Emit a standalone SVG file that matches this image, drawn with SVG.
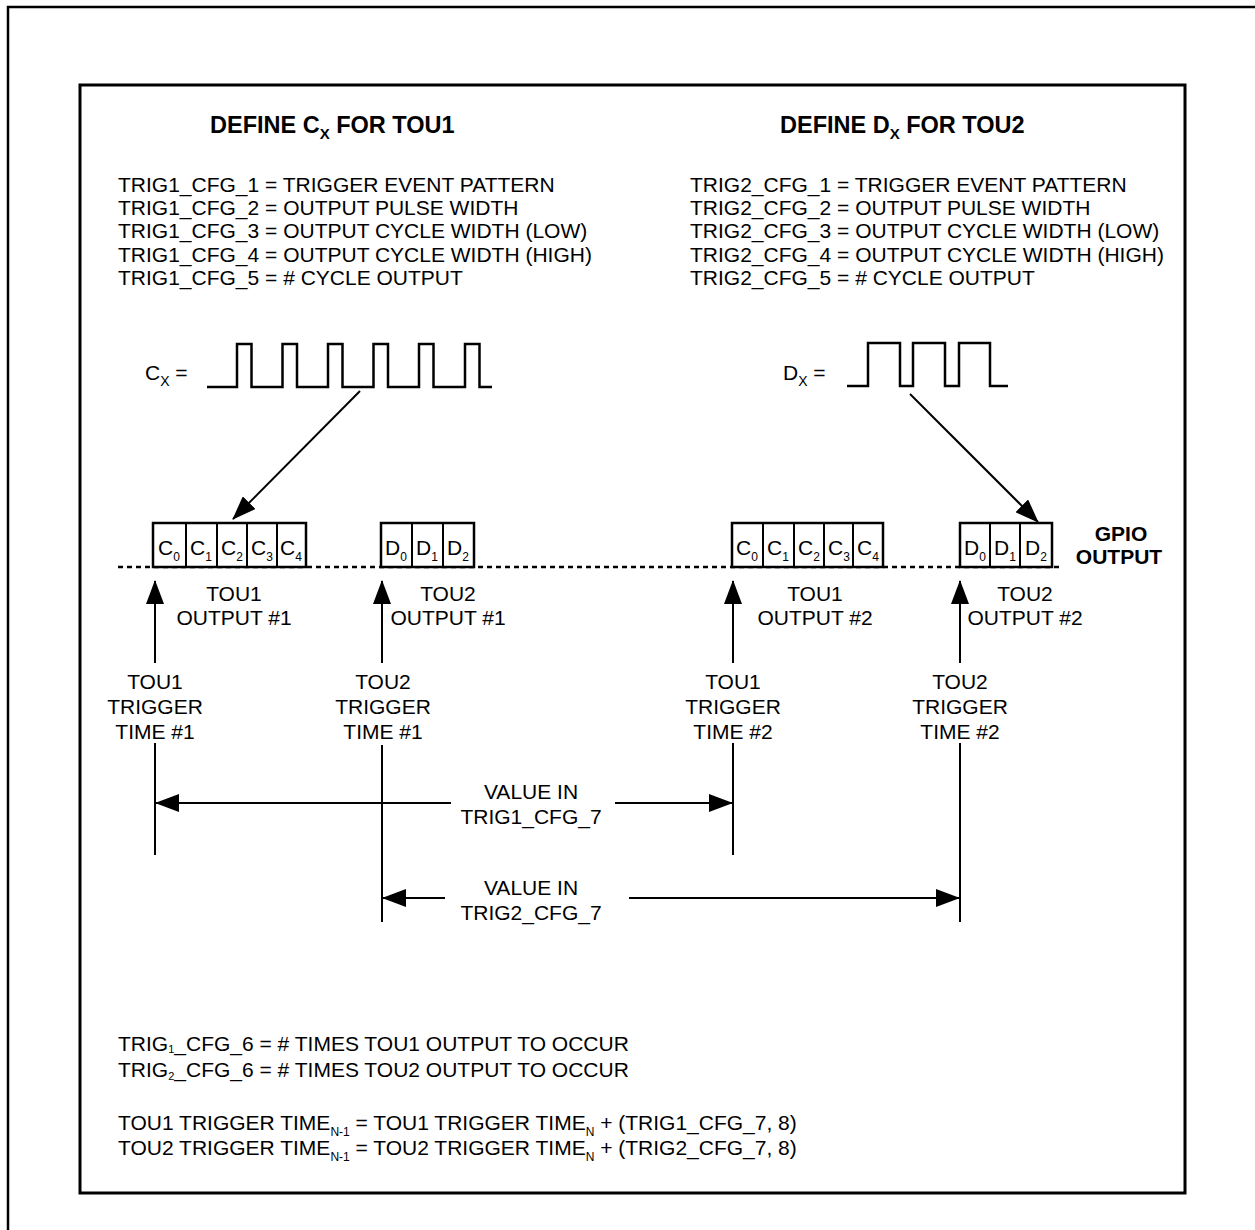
<svg xmlns="http://www.w3.org/2000/svg" width="1255" height="1230" viewBox="0 0 1255 1230">
<defs>
<style>
text{font-family:"Liberation Sans",Arial,sans-serif;font-size:21px;fill:#000}
text.t{font-size:23.5px;font-weight:bold}
.b{font-weight:bold}
.m{text-anchor:middle}
.ln{stroke:#000;stroke-width:2;fill:none}
.wave{stroke:#000;stroke-width:2.5;fill:none}
.box{stroke:#000;stroke-width:2.5;fill:#fff}
.dot{stroke:#000;stroke-width:2.5;stroke-dasharray:5 4;fill:none}
</style>
<marker id="ah" markerUnits="userSpaceOnUse" markerWidth="24" markerHeight="18" refX="23" refY="9" orient="auto"><path d="M0,0 L24,9 L0,18 z" fill="#000"/></marker>
</defs>
<rect width="1255" height="1230" fill="#fff"/>
<path d="M8,1230 V7 H1255" stroke="#000" stroke-width="2.5" fill="none"/>
<rect x="80" y="85" width="1105" height="1108" fill="none" stroke="#000" stroke-width="3"/>

<g id="title-tou1"><text class="t" x="210" y="133">DEFINE C<tspan font-size="15" dy="6">X</tspan><tspan dy="-6"> FOR TOU1</tspan></text></g>
<g id="title-tou2"><text class="t" x="780" y="133">DEFINE D<tspan font-size="15" dy="6">X</tspan><tspan dy="-6"> FOR TOU2</tspan></text></g>

<g id="cfg-tou1">
<text x="118" y="192">TRIG1_CFG_1 = TRIGGER EVENT PATTERN</text>
<text x="118" y="215">TRIG1_CFG_2 = OUTPUT PULSE WIDTH</text>
<text x="118" y="238">TRIG1_CFG_3 = OUTPUT CYCLE WIDTH (LOW)</text>
<text x="118" y="262">TRIG1_CFG_4 = OUTPUT CYCLE WIDTH (HIGH)</text>
<text x="118" y="285">TRIG1_CFG_5 = # CYCLE OUTPUT</text>
</g>
<g id="cfg-tou2">
<text x="690" y="192">TRIG2_CFG_1 = TRIGGER EVENT PATTERN</text>
<text x="690" y="215">TRIG2_CFG_2 = OUTPUT PULSE WIDTH</text>
<text x="690" y="238">TRIG2_CFG_3 = OUTPUT CYCLE WIDTH (LOW)</text>
<text x="690" y="262">TRIG2_CFG_4 = OUTPUT CYCLE WIDTH (HIGH)</text>
<text x="690" y="285">TRIG2_CFG_5 = # CYCLE OUTPUT</text>
</g>

<g id="wave-cx">
<text x="145" y="380">C<tspan font-size="14" dy="6">X</tspan><tspan dy="-6"> =</tspan></text>
<path class="wave" d="M207,387 H237 V344 H251.5 V387 H282.5 V344 H297 V387 H328 V344 H342.5 V387 H373.5 V344 H388 V387 H419 V344 H433.5 V387 H465 V344 H479.5 V387 H492"/>
</g>
<g id="wave-dx">
<text x="783" y="380">D<tspan font-size="14" dy="6">X</tspan><tspan dy="-6"> =</tspan></text>
<path class="wave" d="M847,386 H868 V343 H900 V386 H913 V343 H945 V386 H959 V343 H990 V386 H1008"/>
</g>

<g id="connectors">
<line class="dot" x1="118" y1="567" x2="1062" y2="567"/>
<line class="ln" x1="360" y1="391" x2="233" y2="519" marker-end="url(#ah)"/>
<line class="ln" x1="910" y1="394" x2="1038" y2="522" marker-end="url(#ah)"/>
<line class="ln" x1="155" y1="663" x2="155" y2="581" marker-end="url(#ah)"/>
<line class="ln" x1="382" y1="663" x2="382" y2="581" marker-end="url(#ah)"/>
<line class="ln" x1="733" y1="663" x2="733" y2="581" marker-end="url(#ah)"/>
<line class="ln" x1="960" y1="663" x2="960" y2="581" marker-end="url(#ah)"/>
<line class="ln" x1="155" y1="743" x2="155" y2="855"/>
<line class="ln" x1="382" y1="745" x2="382" y2="922"/>
<line class="ln" x1="733" y1="743" x2="733" y2="855"/>
<line class="ln" x1="960" y1="743" x2="960" y2="922"/>
<line class="ln" x1="451" y1="803" x2="156" y2="803" marker-end="url(#ah)"/>
<line class="ln" x1="615" y1="803" x2="732" y2="803" marker-end="url(#ah)"/>
<line class="ln" x1="445" y1="898" x2="383" y2="898" marker-end="url(#ah)"/>
<line class="ln" x1="629" y1="898" x2="959" y2="898" marker-end="url(#ah)"/>
</g>

<g id="tou1-out1">
<rect class="box" x="153" y="523" width="153" height="44"/>
<path class="ln" stroke-width="2.5" d="M186,523 V567 M217,523 V567 M247,523 V567 M277,523 V567"/>
<text class="m" x="169" y="555">C<tspan font-size="12" dy="6">0</tspan></text>
<text class="m" x="201" y="555">C<tspan font-size="12" dy="6">1</tspan></text>
<text class="m" x="232" y="555">C<tspan font-size="12" dy="6">2</tspan></text>
<text class="m" x="262" y="555">C<tspan font-size="12" dy="6">3</tspan></text>
<text class="m" x="291" y="555">C<tspan font-size="12" dy="6">4</tspan></text>
<text class="m" x="234" y="601">TOU1</text>
<text class="m" x="234" y="625">OUTPUT #1</text>
</g>
<g id="tou2-out1">
<rect class="box" x="381" y="523" width="93" height="44"/>
<path class="ln" stroke-width="2.5" d="M412,523 V567 M443,523 V567"/>
<text class="m" x="396" y="555">D<tspan font-size="12" dy="6">0</tspan></text>
<text class="m" x="427" y="555">D<tspan font-size="12" dy="6">1</tspan></text>
<text class="m" x="458" y="555">D<tspan font-size="12" dy="6">2</tspan></text>
<text class="m" x="448" y="601">TOU2</text>
<text class="m" x="448" y="625">OUTPUT #1</text>
</g>
<g id="tou1-out2">
<rect class="box" x="732" y="523" width="151" height="44"/>
<path class="ln" stroke-width="2.5" d="M763,523 V567 M794,523 V567 M824,523 V567 M853,523 V567"/>
<text class="m" x="747" y="555">C<tspan font-size="12" dy="6">0</tspan></text>
<text class="m" x="778" y="555">C<tspan font-size="12" dy="6">1</tspan></text>
<text class="m" x="809" y="555">C<tspan font-size="12" dy="6">2</tspan></text>
<text class="m" x="839" y="555">C<tspan font-size="12" dy="6">3</tspan></text>
<text class="m" x="868" y="555">C<tspan font-size="12" dy="6">4</tspan></text>
<text class="m" x="815" y="601">TOU1</text>
<text class="m" x="815" y="625">OUTPUT #2</text>
</g>
<g id="tou2-out2">
<rect class="box" x="960" y="523" width="92" height="44"/>
<path class="ln" stroke-width="2.5" d="M990,523 V567 M1020,523 V567"/>
<text class="m" x="975" y="555">D<tspan font-size="12" dy="6">0</tspan></text>
<text class="m" x="1005" y="555">D<tspan font-size="12" dy="6">1</tspan></text>
<text class="m" x="1036" y="555">D<tspan font-size="12" dy="6">2</tspan></text>
<text class="m" x="1025" y="601">TOU2</text>
<text class="m" x="1025" y="625">OUTPUT #2</text>
</g>
<g id="gpio-label">
<text class="b m" x="1121" y="541">GPIO</text>
<text class="b m" x="1119" y="564">OUTPUT</text>
</g>

<g id="trig-tou1-1"><text class="m" x="155" y="689">TOU1</text><text class="m" x="155" y="714">TRIGGER</text><text class="m" x="155" y="739">TIME #1</text></g>
<g id="trig-tou2-1"><text class="m" x="383" y="689">TOU2</text><text class="m" x="383" y="714">TRIGGER</text><text class="m" x="383" y="739">TIME #1</text></g>
<g id="trig-tou1-2"><text class="m" x="733" y="689">TOU1</text><text class="m" x="733" y="714">TRIGGER</text><text class="m" x="733" y="739">TIME #2</text></g>
<g id="trig-tou2-2"><text class="m" x="960" y="689">TOU2</text><text class="m" x="960" y="714">TRIGGER</text><text class="m" x="960" y="739">TIME #2</text></g>

<g id="value-trig1"><text class="m" x="531" y="799">VALUE IN</text><text class="m" x="531" y="824">TRIG1_CFG_7</text></g>
<g id="value-trig2"><text class="m" x="531" y="895">VALUE IN</text><text class="m" x="531" y="920">TRIG2_CFG_7</text></g>

<g id="notes">
<text x="118" y="1051">TRIG<tspan font-size="11" dy="2">1</tspan><tspan dy="-2">_CFG_6 = # TIMES TOU1 OUTPUT TO OCCUR</tspan></text>
<text x="118" y="1077">TRIG<tspan font-size="11" dy="3">2</tspan><tspan dy="-3">_CFG_6 = # TIMES TOU2 OUTPUT TO OCCUR</tspan></text>
<text x="118" y="1130">TOU1 TRIGGER TIME<tspan font-size="12" dy="6">N-1</tspan><tspan dy="-6"> = TOU1 TRIGGER TIME</tspan><tspan font-size="12" dy="6">N</tspan><tspan dy="-6"> + (TRIG1_CFG_7, 8)</tspan></text>
<text x="118" y="1155">TOU2 TRIGGER TIME<tspan font-size="12" dy="6">N-1</tspan><tspan dy="-6"> = TOU2 TRIGGER TIME</tspan><tspan font-size="12" dy="6">N</tspan><tspan dy="-6"> + (TRIG2_CFG_7, 8)</tspan></text>
</g>
</svg>
